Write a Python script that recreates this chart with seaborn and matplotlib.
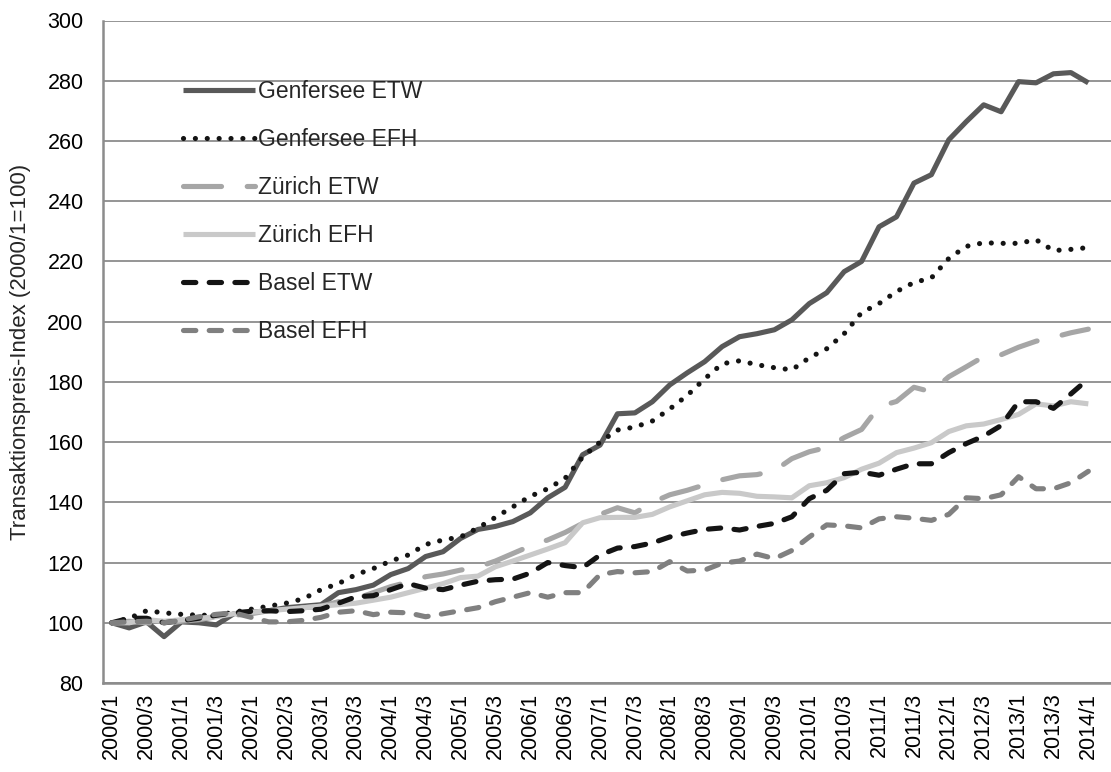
import matplotlib
matplotlib.use("Agg")
import matplotlib.pyplot as plt
import numpy as np
import pandas as pd
import seaborn as sns

# Quarterly periods 2000/1 .. 2014/1
quarters = [f"{y}/{q}" for y in range(2000, 2015) for q in (1, 2, 3, 4)][:57]
tick_labels = quarters[::2]

genfersee_etw = [100, 98.3, 100.3, 95.4, 100.3, 100, 99.3, 103, 103.5, 104,
                 105, 105.5, 106, 110, 111, 112.5, 116, 118, 122, 123.6,
                 128, 131, 132, 133.6, 136.5, 141.5, 145, 155.8, 159, 169.4,
                 169.7, 173.4, 179, 183, 186.7, 191.7, 195, 196, 197.3, 200.6,
                 206, 209.6, 216.6, 220, 231.5, 234.8, 246, 248.8, 260.4, 266.4,
                 272, 269.7, 279.7, 279.3, 282.3, 282.7, 279.3]
genfersee_efh = [100, 101.5, 104, 103.3, 102.8, 102.5, 102.5, 103.5, 104.5, 105.5,
                 106.5, 108, 111, 113, 116, 118, 120.5, 122.5, 126, 127.5,
                 128.5, 131.5, 135, 138.5, 142, 144.5, 148, 155, 160, 164,
                 165, 167, 171, 175.5, 181, 186, 187, 185.7, 184.7, 184,
                 188, 191, 196, 203, 206, 210, 213, 214.5, 221, 225,
                 226.2, 226, 226, 227.2, 223.6, 224, 224.6]
zuerich_etw = [100, 100.5, 100, 99.5, 100.5, 101, 102, 102.5, 103, 104,
               104.5, 105, 105.5, 107, 108, 110, 112, 113.5, 115.3, 116.2,
               117.5, 118.5, 120.5, 123, 125.5, 127.5, 130, 133, 136, 138.2,
               136.5, 140, 142.5, 144, 145.8, 147.5, 148.8, 149.2, 150.5, 154.5,
               156.8, 158.2, 161.5, 164.2, 171.8, 173.5, 178.2, 176.7, 181.7, 185,
               188.4, 189, 191.5, 193.5, 194.8, 196.3, 197.5]
zuerich_efh = [100, 100, 101, 100.5, 101, 101.5, 102, 103, 103.5, 104,
               104.5, 105, 105.5, 106, 106.5, 107.5, 108.5, 110, 111.5, 113,
               115, 115.5, 118.6, 120.5, 122.5, 124.5, 126.6, 133.2, 134.9, 135,
               135, 136, 138.5, 140.5, 142.5, 143.3, 143, 142, 141.8, 141.5,
               145.5, 146.5, 148.2, 151, 153, 156.5, 158, 159.8, 163.5, 165.4,
               166, 167.5, 169.2, 172.7, 172, 173.4, 172.7]
basel_etw = [100, 101.5, 101.5, 100, 100.7, 101.5, 102.5, 103.3, 103.8, 104,
             103.7, 104, 104.5, 106.5, 108.6, 109, 111, 113, 111.5, 111,
             112.5, 113.8, 114.3, 114.5, 116.5, 120, 119, 118.3, 122.5, 124.8,
             125.3, 126.5, 128.5, 129.8, 131, 131.5, 130.8, 132, 133, 135.2,
             141.2, 144, 149.5, 150, 149, 151, 152.8, 152.8, 156.5, 159.5,
             162, 165.5, 173.4, 173.4, 171.2, 176, 181]
basel_efh = [100, 100.3, 100.5, 100, 100.8, 102, 102.8, 103.3, 101.8, 100.3,
             100.3, 100.8, 101.8, 103.5, 104, 102.7, 103.5, 103.3, 102, 103,
             104, 105, 107, 108.5, 110, 108.5, 110, 110, 116, 117,
             116.6, 117, 120.3, 117.2, 117.5, 119.8, 120.5, 122.8, 121.3, 124,
             128.5, 132.5, 132.2, 131.5, 134.5, 135.2, 134.7, 134, 136, 141.5,
             141.2, 142.5, 148.5, 144.5, 144.5, 146.5, 150.3]

series_names = ["Genfersee ETW", "Genfersee EFH", "Zürich ETW",
                "Zürich EFH", "Basel ETW", "Basel EFH"]
series_values = [genfersee_etw, genfersee_efh, zuerich_etw,
                 zuerich_efh, basel_etw, basel_efh]

# line appearance per series: colour and dash pattern (None = solid)
styles = {
    "Genfersee ETW": ("#595959", None),
    "Genfersee EFH": ("#141414", (0.01, 2.3)),
    "Zürich ETW":    ("#a6a6a6", (7.4, 5.0)),
    "Zürich EFH":    ("#c9c9c9", None),
    "Basel ETW":     ("#141414", (2.4, 2.6)),
    "Basel EFH":     ("#808080", (2.4, 2.6)),
}

df = pd.DataFrame({name: vals for name, vals in zip(series_names, series_values)})
df["idx"] = np.arange(len(quarters))

sns.set_theme(style="white")
plt.rcParams["font.family"] = ["Liberation Sans", "DejaVu Sans"]

fig = plt.figure(figsize=(11.11, 7.72), dpi=100)
ax = fig.add_axes([103 / 1111, 1 - 683 / 772, 1 - 103 / 1111, (683 - 20.5) / 772])

LW = 3.7
for name in series_names:
    color, dashes = styles[name]
    sns.lineplot(data=df, x="idx", y=name, ax=ax, color=color, linewidth=LW,
                 label=name)
    line = ax.lines[-1]
    line.set_solid_joinstyle("round")
    line.set_dash_joinstyle("round")
    if dashes is not None:
        line.set_dashes(dashes)
        line.set_dash_capstyle("round")
    else:
        line.set_solid_capstyle("butt")

ax.set_xlim(-0.5, 57.3)
ax.set_ylim(80, 300)
ax.set_yticks(np.arange(80, 301, 20))
ax.set_xticks(np.arange(0, len(quarters), 2))
ax.set_xticklabels(tick_labels, rotation=90)
ax.tick_params(axis="both", length=0, labelsize=15.5, colors="#000000")
ax.tick_params(axis="y", pad=14)
ax.tick_params(axis="x", pad=7)
ax.set_xlabel("")
ax.set_ylabel("Transaktionspreis-Index (2000/1=100)", fontsize=16, labelpad=12)

ax.grid(axis="y", color="#8c8c8c", linewidth=1.3)
ax.set_axisbelow(True)
for side in ("top", "right"):
    ax.spines[side].set_visible(False)
for side in ("left", "bottom"):
    ax.spines[side].set_color("#8c8c8c")
    ax.spines[side].set_linewidth(1.8)

leg = ax.legend(loc="upper left", bbox_to_anchor=(183 / 1111, 1 - 80 / 772),
                bbox_transform=fig.transFigure, frameon=False, fontsize=16.5,
                handlelength=3.14, handletextpad=0.13, labelspacing=1.09,
                borderpad=0, borderaxespad=0)

fig.savefig("out.png", dpi=100)
